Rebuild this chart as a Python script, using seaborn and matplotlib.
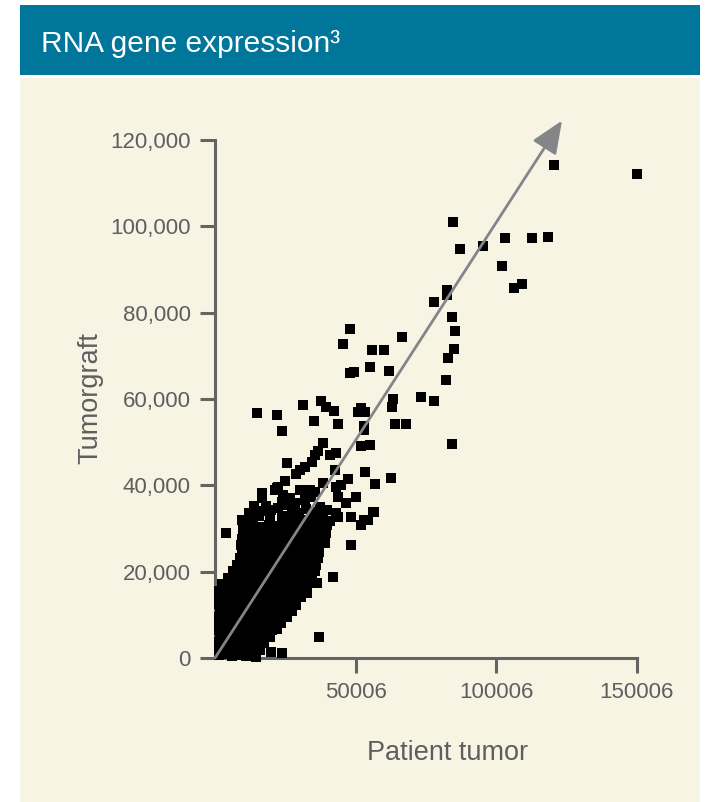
import matplotlib
matplotlib.use("Agg")
import matplotlib.pyplot as plt
import matplotlib.patches as mpatches
import pandas as pd
import seaborn as sns

# ---- data: RNA expression, patient tumor (x) vs tumorgraft (y) ----
# dense core of low/mid expressed genes, listed row by row
patient_core = [
    1500, 3800, 6200, 8700, 10900, 12600, 14500,
    1600, 4000, 6300, 8800, 11100, 13600, 16000,
    1500, 3900, 6400, 8600, 11000, 13300, 15600, 17500,
    1700, 4100, 6500, 8900, 11200, 13700, 16200, 17900, 19500,
    1500, 3900, 6200, 8600, 11000, 13400, 15800, 18200, 20300, 22000,
    1600, 4000, 6400, 8800, 11100, 13500, 15900, 18300, 20700, 23500,
    1500, 3800, 6300, 8700, 11000, 13400, 15700, 18100, 20500, 22900, 25500,
    1700, 4100, 6500, 8900, 11300, 13600, 16000, 18400, 20800, 23200, 25600, 27500,
    1500, 3900, 6300, 8600, 11000, 13400, 15800, 18200, 20600, 23000, 25400, 27700, 29000,
    1600, 4000, 6400, 8800, 11200, 13500, 15900, 18300, 20700, 23100, 25500, 27900, 30500,
    1500, 3900, 6200, 8600, 11000, 13400, 15800, 18200, 20500, 22900, 25300, 27700, 29900, 31500,
    2500, 4800, 7200, 9600, 12000, 14400, 16800, 19200, 21500, 23900, 26300, 28700, 31000, 33000,
    4500, 6900, 9300, 11700, 14100, 16500, 18900, 21300, 23600, 26000, 28400, 30800, 33000, 34500,
    6500, 8900, 11300, 13700, 16100, 18500, 20900, 23200, 25600, 28000, 30400, 32800, 35500,
    7800, 10200, 12600, 15000, 17400, 19800, 22200, 24500, 26900, 29300, 31700, 34000, 36000,
    9000, 11400, 13800, 16200, 18600, 21000, 23400, 25700, 28100, 30500, 32900, 35000, 36500,
    9500, 11900, 14300, 16700, 19100, 21500, 23900, 26200, 28600, 31000, 33400, 35500, 37000,
    9400, 11800, 14200, 16600, 19000, 21400, 23800, 26300, 28700, 31100, 33500, 35800, 37000,
    9600, 12000, 14400, 16800, 19200, 21600, 24000, 26400, 28800, 31200, 33600, 35900, 37200,
    10000, 12400, 14800, 17200, 19600, 22000, 24400, 26800, 29200, 31600, 34000, 36400, 38500,
    11000, 13700, 16500, 19300, 22000, 25000, 28000, 31500, 35000, 38500, 40000,
]
graft_core = [
    600, 900, 400, 700, 500, 800, 300,
    2100, 2300, 1900, 2200, 2000, 2400, 1800,
    3600, 3400, 3800, 3500, 3700, 3300, 3900, 3500,
    5100, 5300, 4900, 5200, 5000, 5400, 5100, 5500, 4800,
    6600, 6400, 6800, 6500, 6700, 6300, 6900, 6600, 6400, 6800,
    8100, 8300, 7900, 8200, 8000, 8400, 8100, 7800, 8300, 8000,
    9600, 9400, 9800, 9500, 9700, 9300, 9900, 9600, 9400, 9800, 9500,
    11100, 11300, 10900, 11200, 11000, 11400, 11100, 10800, 11300, 11000, 11200, 10900,
    12600, 12400, 12800, 12500, 12700, 12300, 12900, 12600, 12400, 12800, 12500, 12700, 12300,
    14100, 14300, 13900, 14200, 14000, 14400, 14100, 13800, 14300, 14000, 14200, 13900, 14100,
    15600, 15400, 15800, 15500, 15700, 15300, 15900, 15600, 15400, 15800, 15500, 15700, 15300, 15600,
    17100, 17300, 16900, 17200, 17000, 17400, 17100, 16800, 17300, 17000, 17200, 16900, 17100, 17300,
    18600, 18400, 18800, 18500, 18700, 18300, 18900, 18600, 18400, 18800, 18500, 18700, 18300, 18600,
    20100, 20300, 19900, 20200, 20000, 20400, 20100, 19800, 20300, 20000, 20200, 19900, 20100,
    21600, 21400, 21800, 21500, 21700, 21300, 21900, 21600, 21400, 21800, 21500, 21700, 21600,
    23100, 23300, 22900, 23200, 23000, 23400, 23100, 22800, 23300, 23000, 23200, 22900, 23100,
    24600, 24400, 24800, 24500, 24700, 24300, 24900, 24600, 24400, 24800, 24500, 24700, 24600,
    26100, 26300, 25900, 26200, 26000, 26400, 26100, 25800, 26300, 26000, 26200, 25900, 26100,
    27600, 27400, 27800, 27500, 27700, 27300, 27900, 27600, 27400, 27800, 27500, 27700, 27400,
    29100, 29300, 28900, 29200, 29000, 29400, 29100, 28800, 29300, 29000, 29200, 28900, 29100,
    30600, 30800, 30400, 30700, 30500, 30900, 30600, 30300, 30800, 30500, 30700,
]

# scattered genes around the core
patient_mid = [
    38300, 36500, 35500, 34400, 41100, 43200, 52000, 55000, 25800, 31900,
    30100, 29000, 42600, 53500, 62700, 57000, 47300, 44700, 24800, 22400,
    21300, 16600, 16600, 50200, 43700, 35500, 34300, 31900, 24200, 23700,
    56700, 48500, 53200, 52000, 54400, 56100, 3900, 13000, 10000, 48500,
    42000, 36400, 32900, 37000, 20100, 23700, 35100, 39300, 46500, 42900,
    38400, 30100, 33700, 21900, 26600, 18300, 20100, 39600, 43200, 43700,
    22500, 25000, 27500, 30000, 32500, 35000, 37500, 40000, 28500, 34000,
    38500, 12000, 15500, 17500, 19500, 24000, 26500, 29000, 31500, 33000,
    36500, 9500, 14000, 41000,
]
graft_mid = [
    49800, 48000, 47000, 45500, 47000, 47600, 49100, 49400, 45100, 44300,
    43600, 42600, 43600, 43200, 41800, 40200, 41400, 40100, 41100, 39700,
    38900, 38200, 37000, 37400, 37400, 38500, 37400, 36600, 37800, 36200,
    33900, 32700, 32000, 30800, 32000, 33900, 29000, 32400, 30800, 26200,
    18800, 17300, 15000, 4900, 1500, 1200, 26900, 26600, 35800, 39700,
    40500, 38900, 38900, 39300, 37000, 35100, 34300, 28900, 33500, 32700,
    34800, 35500, 34000, 33600, 34500, 33800, 35000, 34200, 35800, 32500,
    32900, 33500, 32800, 34000, 32200, 33000, 32300, 31800, 32000, 31200,
    31500, 32000, 35200, 31800,
]

# highly expressed genes
patient_high = [
    150300, 120600, 84600, 118400, 112700, 103200, 95400, 87100, 102100, 106400,
    109100, 82500, 82500, 77900, 84400, 85500, 85100, 83000, 82300, 84400,
    78000, 73300, 66700, 60200, 55900, 47900, 45400, 48200, 49400, 55200,
    62100, 63400, 63000, 64100, 68000, 53200, 53200, 50800, 52000, 53500,
    43900, 42200, 39600, 37800, 31500, 35100, 23700, 22000, 14800,
]
graft_high = [
    112200, 114100, 101000, 97500, 97200, 97200, 95500, 94800, 90900, 85800,
    86700, 85300, 84100, 82500, 79000, 75800, 71600, 69500, 64400, 49600,
    59600, 60500, 74400, 71400, 71400, 76300, 72800, 66100, 66300, 67300,
    66600, 59900, 58200, 54100, 54100, 53800, 52800, 57100, 57900, 57100,
    54100, 57300, 58200, 59500, 58700, 54800, 52700, 56400, 56800,
]

x_ticks = [50006, 100006, 150006]
y_ticks = [0, 20000, 40000, 60000, 80000, 100000, 120000]
trend_end = (123500, 124500)

title = "RNA gene expression\u00b3"
x_label = "Patient tumor"
y_label = "Tumorgraft"

# ---- styling ----
TEAL = "#00769a"
CREAM = "#f8f4e4"
INK = "#5c5e60"
AXIS = "#646464"
ARROW = "#848588"

plt.rcParams["font.family"] = ["Liberation Sans", "DejaVu Sans"]

W, H = 710, 802
fig = plt.figure(figsize=(W / 100, H / 100), dpi=100, facecolor="white")

# panel background and header band (kept behind the axes)
fig.patches.append(mpatches.Rectangle((20 / W, 0), 680 / W, (H - 78) / H,
                                      transform=fig.transFigure, facecolor=CREAM,
                                      edgecolor="none", zorder=-2))
fig.patches.append(mpatches.Rectangle((20 / W, 1 - 75 / H), 680 / W, 70 / H,
                                      transform=fig.transFigure, facecolor=TEAL,
                                      edgecolor="none", zorder=-2))
fig.text(41 / W, 1 - 52 / H, title, color="white", fontsize=21.5,
         ha="left", va="baseline")

ax = fig.add_axes([215 / W, (H - 658) / H, 421.5 / W, 518 / H])
ax.set_facecolor("none")

df = pd.DataFrame({
    "patient": patient_core + patient_mid + patient_high,
    "graft": graft_core + graft_mid + graft_high,
})
sns.scatterplot(data=df, x="patient", y="graft", ax=ax, marker="s", s=42,
                color="black", linewidth=0, zorder=3)
for coll in ax.collections:
    coll.set_clip_on(False)

ax.set_xlim(6, 150006)
ax.set_ylim(0, 120000)

# identity trend arrow
ax.annotate("", xy=trend_end, xytext=(6, 0),
            arrowprops=dict(arrowstyle="-|>,head_length=20,head_width=8.5",
                            mutation_scale=1, color=ARROW, lw=2.0,
                            shrinkA=0, shrinkB=0),
            annotation_clip=False, zorder=4)

ax.set_xticks(x_ticks)
ax.set_xticklabels([str(v) for v in x_ticks])
ax.set_yticks(y_ticks)
ax.set_yticklabels([f"{v:,}" for v in y_ticks])

for side in ("top", "right"):
    ax.spines[side].set_visible(False)
for side in ("left", "bottom"):
    ax.spines[side].set_color(AXIS)
    ax.spines[side].set_linewidth(2.2)
ax.tick_params(axis="both", colors=AXIS, width=2.2, length=10.5,
               labelcolor=INK, labelsize=16, pad=7)

ax.set_xlabel("")
ax.set_ylabel("")
fig.text(447.5 / W, 1 - 760 / H, x_label, color=INK, fontsize=19.5,
         ha="center", va="baseline")
fig.text(90 / W, 1 - 398 / H, y_label, color=INK, fontsize=19.5,
         rotation=90, ha="center", va="center")

fig.savefig("out.png", dpi=100, facecolor="white")
